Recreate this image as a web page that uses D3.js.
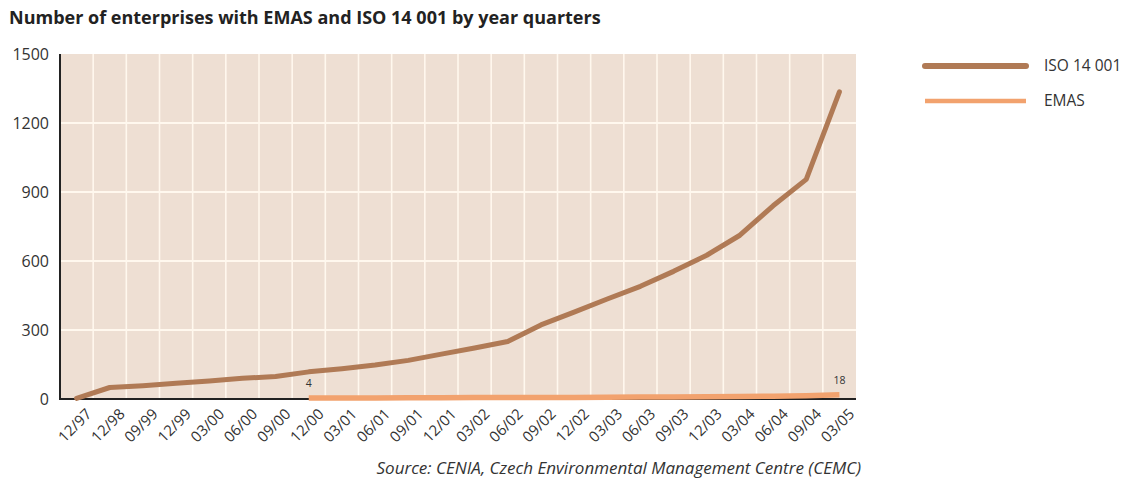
<!DOCTYPE html>
<html>
<head>
<meta charset="utf-8">
<script src="https://cdn.jsdelivr.net/npm/d3@7"></script>
<style>
  html, body { margin: 0; padding: 0; background: #ffffff; }
  svg { display: block; }
</style>
</head>
<body>
<svg id="chart" width="1129" height="485"></svg>
<script>
const categories = ["12/97","12/98","09/99","12/99","03/00","06/00","09/00","12/00","03/01","06/01","09/01","12/01",
                    "03/02","06/02","09/02","12/02","03/03","06/03","09/03","12/03","03/04","06/04","09/04","03/05"];
const isoValues  = [3, 50, 58, 68, 78, 90, 98, 118, 132, 148, 168, 195,
                    222, 250, 322, 378, 435, 490, 555, 625, 712, 840, 955, 1335];
const emasValues = [null, null, null, null, null, null, null, 4, 4, 4, 5, 5,
                    6, 6, 7, 7, 8, 9, 9, 10, 11, 12, 14, 18];
const yTicks = [0, 300, 600, 900, 1200, 1500];
const seriesNames = ["ISO 14 001", "EMAS"];
const titleText = "Number of enterprises with EMAS and ISO 14 001 by year quarters";
const sourceText = "Source: CENIA, Czech Environmental Management Centre (CEMC)";

const FONT = "'Open Sans', 'Noto Sans', sans-serif";
const isoColor = "#b07a55";
const emasColor = "#f2a26e";
const bgColor = "#eedfd3";
const gridColor = "#fff8ee";

const svg = d3.select("#chart");
const m = { left: 60, right: 856, top: 54, bottom: 399 };

const x = d3.scaleBand().domain(categories).range([m.left, m.right]).padding(0);
const y = d3.scaleLinear().domain([0, 1500]).range([m.bottom, m.top]);
const cx = c => x(c) + x.bandwidth() / 2;

// title
svg.append("text")
  .attr("x", 9).attr("y", 24)
  .attr("font-family", FONT).attr("font-weight", "bold").attr("font-size", 18)
  .attr("fill", "#222")
  .text(titleText);

// plot background
svg.append("rect")
  .attr("x", m.left).attr("y", m.top)
  .attr("width", m.right - m.left).attr("height", m.bottom - m.top)
  .attr("fill", bgColor);

// vertical grid at band boundaries
svg.append("g").selectAll("line")
  .data(categories.slice(1))
  .join("line")
  .attr("x1", d => x(d)).attr("x2", d => x(d))
  .attr("y1", m.top).attr("y2", m.bottom)
  .attr("stroke", gridColor).attr("stroke-width", 1.6);

// horizontal grid
svg.append("g").selectAll("line")
  .data(yTicks.filter(v => v > 0 && v < 1500))
  .join("line")
  .attr("x1", m.left).attr("x2", m.right)
  .attr("y1", d => y(d)).attr("y2", d => y(d))
  .attr("stroke", gridColor).attr("stroke-width", 1.8);

// y axis
const yAxis = svg.append("g")
  .attr("transform", `translate(${m.left},0)`)
  .call(d3.axisLeft(y).tickValues(yTicks).tickSize(0).tickPadding(11).tickFormat(d3.format("d")));
yAxis.select(".domain").remove();
yAxis.selectAll("text")
  .attr("font-family", FONT).attr("font-size", 16).attr("fill", "#333");

// x axis
const xAxis = svg.append("g")
  .attr("transform", `translate(0,${m.bottom})`)
  .call(d3.axisBottom(x).tickSize(0));
xAxis.select(".domain").remove();
xAxis.selectAll("text")
  .attr("x", 0).attr("y", 0).attr("dy", 0)
  .attr("text-anchor", "end")
  .attr("transform", "translate(16,16) rotate(-45)")
  .attr("font-family", FONT).attr("font-size", 15).attr("fill", "#333");

// axis lines
svg.append("line")
  .attr("x1", m.left).attr("x2", m.left).attr("y1", m.top).attr("y2", m.bottom + 1)
  .attr("stroke", "#222").attr("stroke-width", 2);
svg.append("line")
  .attr("x1", m.left).attr("x2", m.right).attr("y1", m.bottom).attr("y2", m.bottom)
  .attr("stroke", "#222").attr("stroke-width", 2);

// lines
const isoLine = d3.line()
  .x((d, i) => cx(categories[i]))
  .y(d => y(d));
const emasLine = d3.line()
  .defined(d => d != null)
  .x((d, i) => cx(categories[i]))
  .y(d => y(d));

svg.append("path")
  .datum(emasValues)
  .attr("d", emasLine)
  .attr("fill", "none").attr("stroke", emasColor).attr("stroke-width", 5.5);

svg.append("path")
  .datum(isoValues)
  .attr("d", isoLine)
  .attr("fill", "none").attr("stroke", isoColor).attr("stroke-width", 5)
  .attr("stroke-linejoin", "round").attr("stroke-linecap", "round");

// EMAS first/last value labels
const firstIdx = emasValues.findIndex(v => v != null);
const lastIdx = emasValues.length - 1;
svg.append("g").selectAll("text")
  .data([firstIdx, lastIdx])
  .join("text")
  .attr("x", i => cx(categories[i]))
  .attr("y", i => y(emasValues[i]) - 11)
  .attr("text-anchor", "middle")
  .attr("font-family", FONT).attr("font-size", 10.5).attr("fill", "#333")
  .text(i => emasValues[i]);

// legend
const legend = svg.append("g");
const legendColors = [isoColor, emasColor];
const legendWidths = [6, 4.5];
seriesNames.forEach((name, i) => {
  const ly = 66 + i * 35;
  legend.append("line")
    .attr("x1", 925).attr("x2", 1026).attr("y1", ly).attr("y2", ly)
    .attr("stroke", legendColors[i]).attr("stroke-width", legendWidths[i])
    .attr("stroke-linecap", i === 0 ? "round" : "butt");
  legend.append("text")
    .attr("x", 1044).attr("y", ly).attr("dy", "0.35em")
    .attr("font-family", FONT).attr("font-size", 15.5).attr("fill", "#333")
    .text(name);
});

// source
svg.append("text")
  .attr("x", 861).attr("y", 474)
  .attr("text-anchor", "end")
  .attr("font-family", FONT).attr("font-style", "italic").attr("font-size", 17)
  .attr("fill", "#333")
  .text(sourceText);
</script>
</body>
</html>
